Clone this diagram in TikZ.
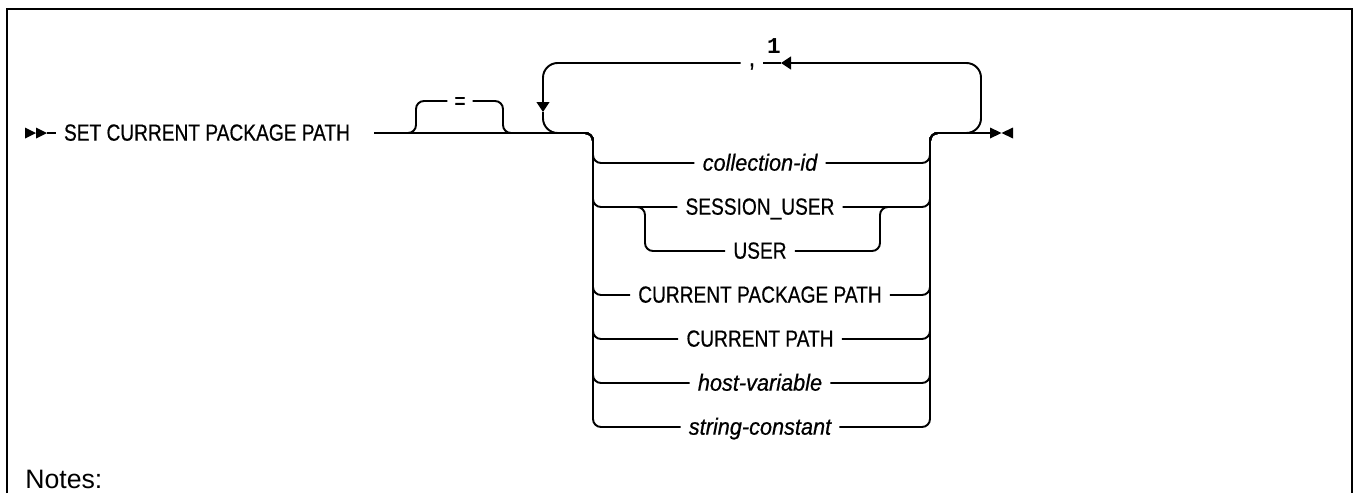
\documentclass[tikz,border=0pt]{standalone}
\usepackage{fontspec}
\setmainfont{Liberation Sans}
\newfontfamily\railfont[FakeStretch=0.82,FakeBold=0.6]{Liberation Sans}
\newfontfamily\railitfont[FakeStretch=0.93,FakeBold=0.6]{Liberation Sans}
\newfontfamily\markfont{Liberation Mono}
\usepackage{tikz}
\usetikzlibrary{arrows.meta}

\begin{document}
\begin{tikzpicture}[x=0.75pt,y=-0.75pt,
    rail/.style={line width=1.45pt, rounded corners=6pt},
    bigloop/.style={line width=1.45pt, rounded corners=11pt},
    tip/.style={-{Triangle[length=7.5pt,width=9.5pt]}},
    kw/.style={inner xsep=6pt, inner ysep=0pt, text height=11.5pt, text depth=0pt,
        font=\railfont\fontsize{17.5pt}{19pt}\selectfont},
    var/.style={kw, font=\railitfont\itshape\fontsize{17.5pt}{19pt}\selectfont}]
    \useasboundingbox (0,0) rectangle (1353,493);
    \draw[line width=1.5pt] (6.5,493) -- (6.5,8.5) -- (1351.5,8.5) -- (1351.5,493);

    % start of the statement
    \coordinate (st) at (25,133);
    \node[kw] (stmt) at (207,133) {SET CURRENT PACKAGE PATH};
    \fill (st) ++(0,-5.5) -- ++(11,5.5) -- ++(-11,5.5) -- cycle;
    \fill (st) ++(11,-5.5) -- ++(11,5.5) -- ++(-11,5.5) -- cycle;
    \draw[rail] (st) ++(22,0) -- (stmt.west);

    \coordinate (sL) at (580,133);
    \coordinate (sR) at (942,133);
    \coordinate (en) at (990,133);
    \draw[rail, shorten <=12pt] (stmt.east) -- (sL);

    % optional =
    \node[kw, inner xsep=5pt] (eq) at (460,101) {=};
    \draw[rail] (400,133) -- (416,133) -- (416,101) -- (eq.west);
    \draw[rail] (eq.east) -- (503,101) -- (503,133) -- (519,133);

    % repeat loop
    \node[kw, text height=5pt, font=\railfont\fontsize{20pt}{20pt}\selectfont] (cm) at (752,63) {,};
    \node[inner sep=0pt, font=\markfont\bfseries\fontsize{17pt}{17pt}\selectfont] (fn) at (774,46) {1};
    \coordinate (lpA) at (543,112);
    \coordinate (lpB) at (781,63);
    \draw[bigloop, tip] (cm.west) -- (543,63) -- (lpA);
    \draw[bigloop] (lpA) -- (543,133) -- (565,133);
    \draw[bigloop, tip] (960,133) -- (981,133) -- (981,63) -- (lpB);
    \draw[rail] (lpB) -- (cm.east);

    % choices
    \foreach \n/\y/\s/\t in {r1/163/var/collection-id, r2/207/kw/SESSION\_USER, r3/251/kw/USER,
        r4/295/kw/CURRENT PACKAGE PATH, r5/339/kw/CURRENT PATH, r6/383/var/host-variable,
        r7/427/var/string-constant}
        \node[\s] (\n) at (760,\y) {\t};
    \foreach \n/\y in {r1/163,r2/207,r4/295,r5/339,r6/383,r7/427} {
        \draw[rail] (sL) -- (593,133) -- (593,\y) -- (\n.west);
        \draw[rail] (\n.east) -- (930,\y) -- (930,133) -- (sR);
    }
    \coordinate (uL) at (637,207);
    \coordinate (uR) at (888,207);
    \draw[rail] (uL) -- (645,207) -- (645,251) -- (r3.west);
    \draw[rail] (r3.east) -- (880,251) -- (880,207) -- (uR);

    % end of the statement
    \draw[rail] (sR) -- (en);
    \fill (en) ++(0,-5.5) -- ++(11.5,5.5) -- ++(-11.5,5.5) -- cycle;
    \fill (en) ++(23,-5.5) -- ++(-11.5,5.5) -- ++(11.5,5.5) -- cycle;

    \node[anchor=base west, inner sep=0pt, font=\fontsize{20pt}{22pt}\selectfont] (notes) at (25,488) {Notes:};
\end{tikzpicture}
\end{document}
